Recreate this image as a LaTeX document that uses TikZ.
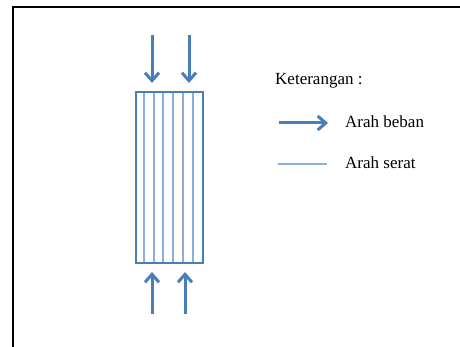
\documentclass[tikz,border=0pt]{standalone}
\usepackage{fontspec}
\setmainfont{Liberation Serif}
\usepackage{tikz}
\usetikzlibrary{arrows.meta,positioning}

\definecolor{bebanblue}{HTML}{4A7EBB}
\definecolor{seratblue}{HTML}{8EAED6}

\begin{document}
\begin{tikzpicture}[
    x=1pt, y=-1pt,
    load/.style={
        draw=bebanblue, line width=3pt,
        -{Straight Barb[length=8pt,width=14pt,line width=3pt]}
    },
    fiber/.style={draw=seratblue, line width=1.2pt},
    label/.style={anchor=base west, inner sep=0pt, font=\fontsize{17}{20}\selectfont}
]
\useasboundingbox (0,0) rectangle (460,347);
% frame
\draw[line width=2pt] (13,347) -- (13,7) -- (460,7);

% sample with fibres
\node[draw=bebanblue, line width=2.4pt, minimum width=67pt, minimum height=171pt,
      inner sep=0pt] (sample) at (169.5,177.5) {};
\foreach \fx in {144,154,163,173,183,193}
    \draw[fiber] (\fx,93) -- (\fx,262);

% loads on top and bottom
\coordinate (top1s) at (152,35);  \coordinate (top1e) at (152,83);
\coordinate (top2s) at (189,35);  \coordinate (top2e) at (189,83);
\coordinate (bot1s) at (152,314); \coordinate (bot1e) at (152,272);
\coordinate (bot2s) at (185,314); \coordinate (bot2e) at (185,272);
\draw[load] (top1s) -- (top1e);
\draw[load] (top2s) -- (top2e);
\draw[load] (bot1s) -- (bot1e);
\draw[load] (bot2s) -- (bot2e);

% legend
\node[label] (ket)   at (275,85)  {Keterangan :};
\node[label] (beban) at (345,127.5) {Arah beban};
\node[label] (serat) at (345,169) {Arah serat};
\coordinate (bebanS) at (279,123); \coordinate (bebanE) at (328,123);
\coordinate (seratS) at (278,164); \coordinate (seratE) at (327,164);
\draw[load] (bebanS) -- (bebanE);
\draw[fiber, line width=1.4pt] (seratS) -- (seratE);
\end{tikzpicture}
\end{document}
